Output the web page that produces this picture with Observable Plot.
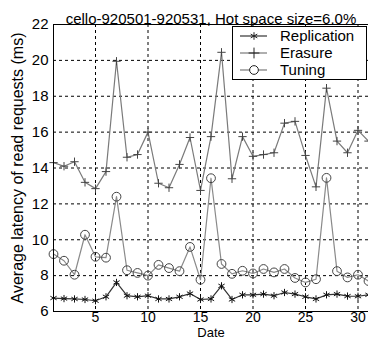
<!DOCTYPE html>
<html><head><meta charset="utf-8">
<script src="https://cdn.jsdelivr.net/npm/d3@7"></script>
<script src="https://cdn.jsdelivr.net/npm/@observablehq/plot@0.6"></script>
<style>
html,body{margin:0;padding:0;background:#fff;}
#wrap{position:relative;width:368px;height:342px;overflow:hidden;}
#legend{position:absolute;left:0;top:0;}
</style>
</head><body>
<div id="wrap"></div>
<script>
const dates = d3.range(1, 32);
const replication = [6.75,6.72,6.7,6.67,6.6,6.82,7.62,6.88,6.82,6.88,6.7,6.7,6.82,7.0,6.67,6.7,7.43,6.67,6.93,6.93,6.97,6.88,7.06,6.97,6.82,6.7,6.93,6.97,6.86,6.85,6.93];
const erasure = [14.3,14.1,14.35,13.2,12.85,13.8,19.95,14.6,14.75,16.0,13.15,12.9,14.2,15.7,12.75,15.75,20.45,13.4,15.75,14.65,14.75,14.85,16.5,16.6,14.7,12.95,18.45,15.5,14.85,16.1,15.5];
const tuning = [9.2,8.83,8.05,10.28,9.05,9.0,12.4,8.3,8.15,8.0,8.6,8.42,8.25,9.6,7.77,13.43,8.65,8.1,8.27,8.12,8.37,8.18,8.37,7.87,7.62,7.8,13.45,8.25,7.9,8.05,7.7];
const seriesNames = ["Replication","Erasure","Tuning"];
const xTicks = [5,10,15,20,25,30];
const yTicks = [6,8,10,12,14,16,18,20,22];
const title = "cello-920501-920531, Hot space size=6.0%";
const xLabel = "Date";
const yLabel = "Average latency of read requests (ms)";

const rows = s => dates.map((d,i)=>({date:d, v:s[i]}));
const R = rows(replication), E = rows(erasure), T = rows(tuning);

const font = "Liberation Sans, Arial, sans-serif";
const chart = Plot.plot({
  width: 368, height: 342,
  marginTop: 24, marginBottom: 31, marginLeft: 53, marginRight: 0,
  style: {fontFamily: font, fontSize: "15px", background: "white", color: "black"},
  x: {domain: [1,31]},
  y: {domain: [6,22]},
  marks: [
    Plot.gridX(xTicks, {stroke: "black", strokeOpacity: 1, strokeDasharray: "3,3", strokeWidth: 1}),
    Plot.gridY(yTicks.filter(t=>t>6 && t<22), {stroke: "black", strokeOpacity: 1, strokeDasharray: "3,3", strokeWidth: 1}),
    Plot.axisX(xTicks, {tickSize: 0, tickPadding: 1, fontSize: 14, label: null}),
    Plot.axisY(yTicks, {tickSize: 0, tickPadding: 5, fontSize: 15, label: null}),
    Plot.line(E, {x:"date", y:"v", stroke:"#7a7a7a", strokeWidth:1.2}),
    Plot.line(T, {x:"date", y:"v", stroke:"#8a8a8a", strokeWidth:1.2}),
    Plot.line(R, {x:"date", y:"v", stroke:"#333", strokeWidth:1.2}),
    Plot.dot(E, {x:"date", y:"v", symbol:"plus", r:2.8, stroke:"#444", strokeWidth:1}),
    Plot.dot(T, {x:"date", y:"v", symbol:"circle", r:4.4, stroke:"#444", fill:"none", strokeWidth:1}),
    Plot.dot(R, {x:"date", y:"v", symbol:"asterisk", r:3.4, stroke:"#111", strokeWidth:1}),
    Plot.frame({stroke:"black"}),
    Plot.text([title], {frameAnchor:"top", dy:-11, fontSize:15}),
    Plot.text([xLabel], {frameAnchor:"bottom", dy:25, fontSize:13}),
    Plot.text([yLabel], {frameAnchor:"left", rotate:-90, dx:-36, textAnchor:"middle", fontSize:16})
  ]
});
document.getElementById("wrap").appendChild(chart);

// legend
const lg = d3.select("#wrap").append("svg").attr("id","legend").attr("width",368).attr("height",342)
  .style("font-family", font).style("font-size","15px");
lg.append("rect").attr("x",232.5).attr("y",26.5).attr("width",134).attr("height",53).attr("fill","white").attr("stroke","black");
const sym = {Replication: d3.symbolAsterisk, Erasure: d3.symbolPlus, Tuning: d3.symbolCircle};
const symSize = {Replication: 40, Erasure: 40, Tuning: 60};
seriesNames.forEach((name,i)=>{
  const y = 36 + i*17;
  lg.append("line").attr("x1",240).attr("x2",267).attr("y1",y).attr("y2",y).attr("stroke", i==0?"#333":"#7a7a7a").attr("stroke-width",1.2);
  lg.append("path").attr("transform",`translate(254,${y})`).attr("d", d3.symbol(sym[name], symSize[name])())
    .attr("fill", name==="Tuning"?"white":"none").attr("stroke","#222");
  lg.append("text").attr("x",280).attr("y",y).attr("dy","0.35em").text(name);
});
</script>
</body></html>
